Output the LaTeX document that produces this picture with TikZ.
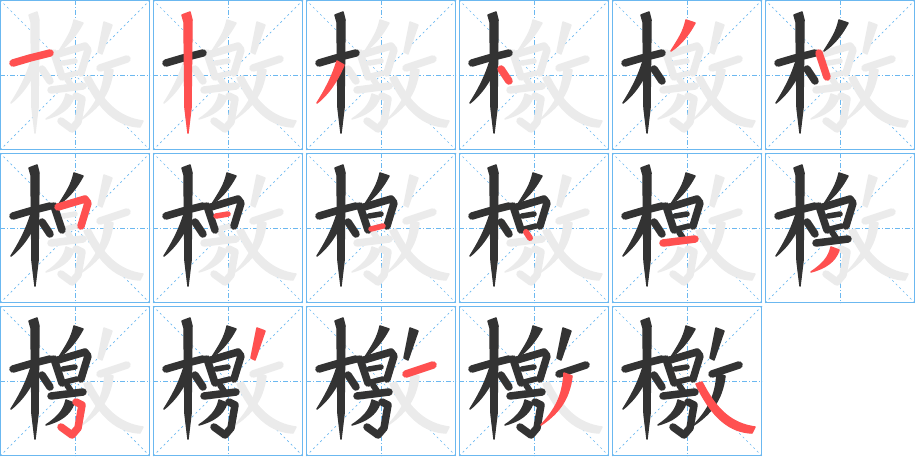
\documentclass[tikz,border=0pt]{standalone}
\definecolor{gb}{HTML}{6BB8F0}
\definecolor{ink}{HTML}{333333}
\definecolor{hl}{HTML}{FF5050}
\definecolor{ghost}{HTML}{EBEBEB}
\tikzset{
  stk/.style={line width=7.5pt,line cap=round,line join=round},
  shape stk/.style={line width=1.5pt,line join=round},
  frame/.style={draw=gb,line width=1pt},
  guide/.style={draw=gb,line width=0.8pt,dash pattern=on 5pt off 2pt on 1pt off 2pt},
  diag/.style={draw=gb,line width=0.7pt,dash pattern=on 2pt off 3pt}
}
\newcommand\drawstroke[2]{\ifcase#1\or
  \draw[stk,#2] (13,63) -- (30,58) -- (50,53);\or
  \filldraw[shape stk,#2] (29,15) -- (37,12) -- (39,20) -- (38,108) -- (35,133) -- (32,108) -- (31,22) -- cycle;\or
  \filldraw[shape stk,#2] (31,61) -- (38,65) .. controls (30,84) and (20,96) .. (11,103) .. controls (18,92) and (26,78) .. (31,61) -- cycle;\or
  \draw[stk,#2] (42,69) -- (50,81);\or
  \filldraw[shape stk,#2] (74,20) -- (83,23) .. controls (76,36) and (68,45) .. (59,51) .. controls (66,40) and (72,31) .. (74,20) -- cycle;\or
  \draw[stk,#2] (54,53) -- (62,77);\or
  \draw[stk,#2] (58,54) -- (85,46) -- (88,50) -- (81,73);\or
  \draw[stk,line width=5.5pt,#2] (63,63) -- (75,61);\or
  \draw[stk,line width=5.5pt,#2] (65,76) -- (77,73);\or
  \draw[stk,line width=6pt,#2] (67,79) -- (71,85);\or
  \draw[stk,#2] (51,90) -- (83,86);\or
  \filldraw[shape stk,#2] (66,94) -- (74,97) .. controls (70,109) and (60,115) .. (46,119) .. controls (58,111) and (64,104) .. (66,94) -- cycle;\or
  \draw[stk,#2] (76,96) -- (82,99) -- (78,122) -- (72,129) -- (61,121);\or
  \filldraw[shape stk,#2] (104,22) -- (112,25) -- (102,54) -- (98,52) -- cycle;\or
  \draw[stk,#2] (100,68) -- (127,59);\or
  \filldraw[shape stk,#2] (105,67) -- (113,70) .. controls (110,95) and (98,108) .. (82,119) .. controls (96,104) and (104,90) .. (105,67) -- cycle;\or
  \filldraw[shape stk,#2] (84,78) -- (90,76) .. controls (104,104) and (120,118) .. (143,121) -- (140,127) .. controls (118,126) and (100,112) .. (84,78) -- cycle;\fi}
\begin{document}
\begin{tikzpicture}[x=1pt,y=-1pt]
\useasboundingbox (0,0) rectangle (915,456);
\foreach \k in {1,...,17}{
  \pgfmathtruncatemacro\cc{mod(\k-1,6)}
  \pgfmathtruncatemacro\rr{div(\k-1,6)}
  \begin{scope}[shift={(\cc*153,\rr*153)}]
    \draw[diag] (0,0) -- (150,150);
    \draw[diag] (150,0) -- (0,150);
    \draw[guide] (75,0) -- (75,150);
    \draw[guide] (0,75) -- (150,75);
    \draw[frame] (0.5,0.5) rectangle (149.5,149.5);
    \foreach \j in {1,...,17}{\drawstroke{\j}{ghost}}
    \foreach \j in {1,...,17}{\ifnum\j<\k\relax\drawstroke{\j}{ink}\fi}
    \drawstroke{\k}{hl}
  \end{scope}
}
\end{tikzpicture}
\end{document}
